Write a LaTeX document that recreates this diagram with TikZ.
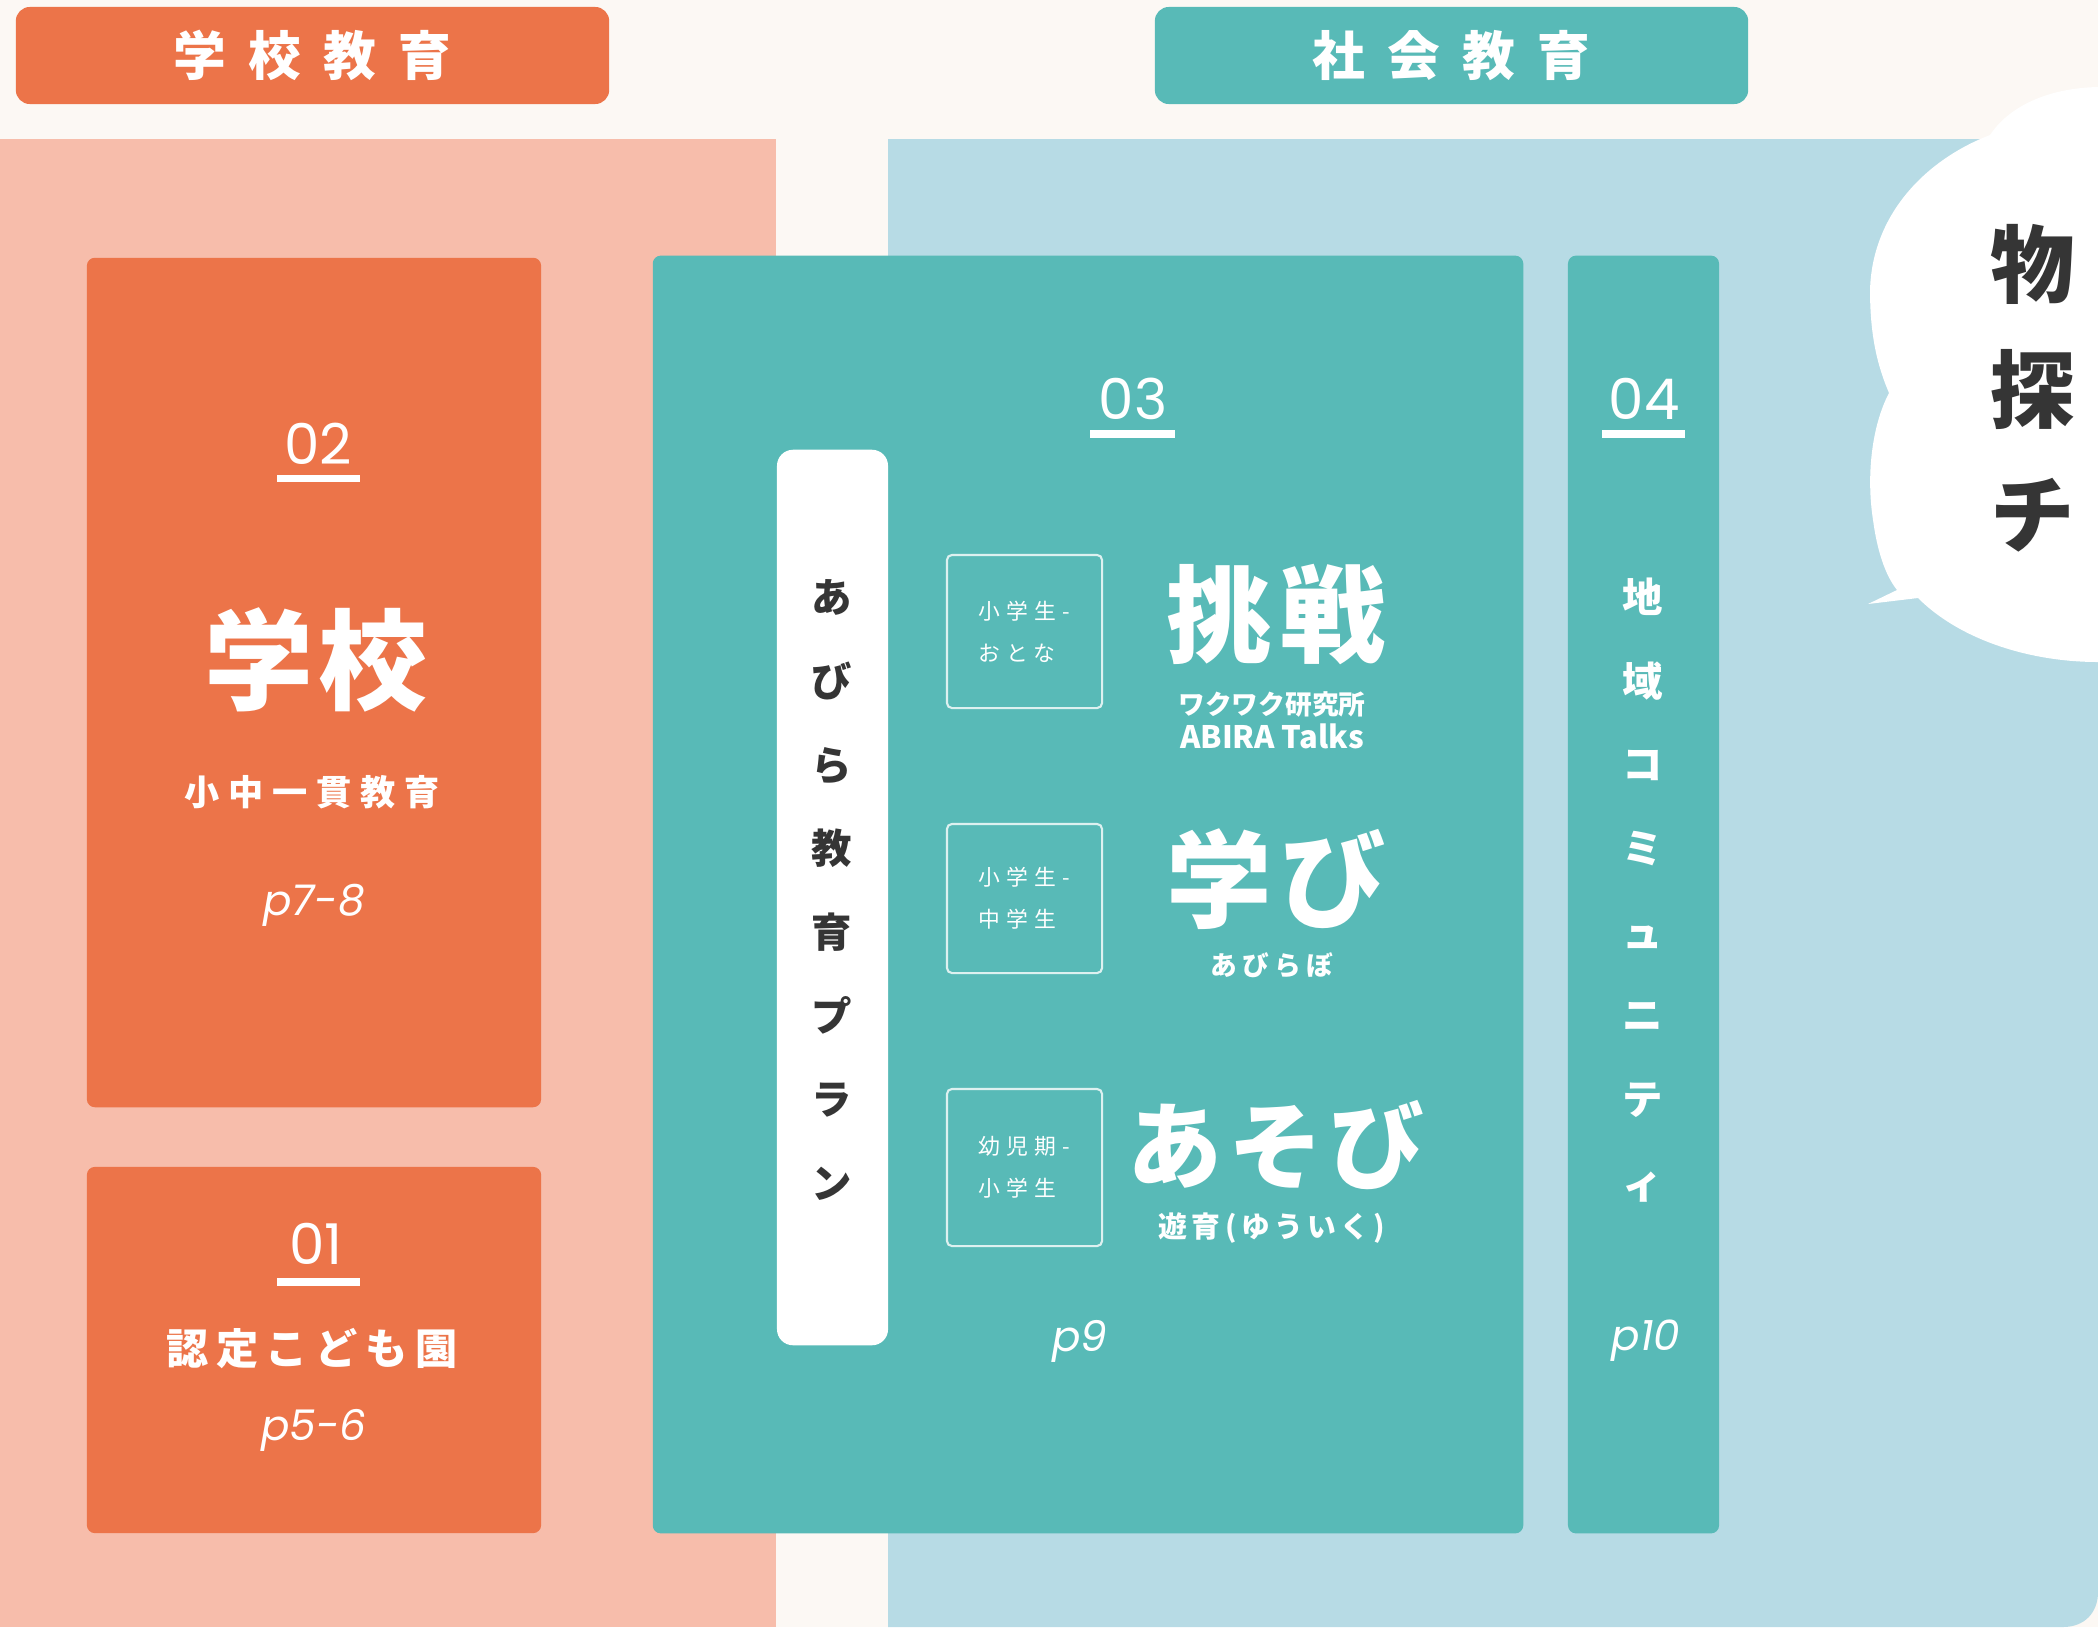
\documentclass[tikz,border=0pt]{standalone}
\usepackage{fontspec}
\newfontfamily\jp{Noto Sans CJK JP}
\newfontfamily\lat{Poppins}
\definecolor{bgc}{HTML}{FCF8F4}
\definecolor{org}{HTML}{EC7449}
\definecolor{pnk}{HTML}{F7BDAB}
\definecolor{tl}{HTML}{58BAB7}
\definecolor{lb}{HTML}{B7DBE5}
\definecolor{dk}{HTML}{353535}
\tikzset{
  every node/.style={inner sep=0pt, outer sep=0pt},
  fillbox/.style={fill=#1, rounded corners=0.08cm},
  toplabel/.style={fill=#1, rounded corners=0.14cm, minimum width=5.93cm, minimum height=0.97cm, text=white,
     font=\jp\bfseries\addfontfeature{LetterSpace=42}\fontsize{15}{18}\selectfont},
  agebox/.style={draw=white, draw opacity=0.8, line width=0.6pt, rounded corners=0.05cm, minimum width=1.55cm},
  agetxt/.style={text=white, align=left, font=\jp\addfontfeature{LetterSpace=28}\fontsize{6.2}{12}\selectfont},
  numtxt/.style={text=white, font=\lat\fontsize{16}{18}\selectfont},
  pagetxt/.style={text=white, font=\lat\itshape\fontsize{12}{14}\selectfont},
  bigtxt/.style={text=white, font=\jp\bfseries\fontsize{30}{34}\selectfont},
  subtxt/.style={text=white, align=center, font=\jp\bfseries\fontsize{7.6}{9.6}\selectfont},
  vtxt/.style={align=center, font=\jp\bfseries\fontsize{11.5}{23.8}\selectfont},
}
\begin{document}
\begin{tikzpicture}[x=0.01cm,y=-0.01cm]
\fill[bgc] (0,0) rectangle (2098,1627);
\useasboundingbox (0,0) rectangle (2098,1627);
% panels
\fill[pnk] (0,139) rectangle (776,1627);
\fill[lb] (888,139) -- (2098,139) -- (2098,1592) .. controls (2098,1612) and (2085,1627) .. (2063,1627) -- (888,1627) -- cycle;
% speech bubble
\fill[white] (2098,87) .. controls (2050,88) and (2010,105) .. (1990,135)
  .. controls (1925,160) and (1872,215) .. (1870,290)
  .. controls (1870,335) and (1877,365) .. (1889,393)
  .. controls (1872,425) and (1866,475) .. (1873,520)
  .. controls (1877,550) and (1885,575) .. (1897,590)
  -- (1868,604) -- (1918,598)
  .. controls (1960,640) and (2030,662) .. (2098,662) -- cycle;
\node[text=dk, align=center, font=\jp\bfseries\fontsize{24}{35.5}\selectfont] (bub) at (2033,388) {物\\探\\チ};
% top labels
\node[toplabel=org] (lab1) at (312.5,55.5) {学校教育};
\node[toplabel=tl] (lab2) at (1451.5,55.5) {社会教育};
% box 02
\node[fillbox=org, minimum width=4.54cm, minimum height=8.49cm] (b02) at (314,682.5) {};
\node[numtxt] (n02) at (318,444) {02};
\fill[white] (277,475) rectangle (360,482);
\node[bigtxt, font=\jp\bfseries\fontsize{31}{34}\selectfont\addfontfeature{LetterSpace=5}] (gakko) at (316,660) {学校};
\node[text=white, font=\jp\bfseries\addfontfeature{LetterSpace=25}\fontsize{10}{12}\selectfont] (shochu) at (312,792) {小中一貫教育};
\node[pagetxt] (p78) at (314,905) {p7-8};
% box 01
\node[fillbox=org, minimum width=4.54cm, minimum height=3.66cm] (b01) at (314,1350) {};
\node[numtxt] (n01) at (316,1244) {01};
\fill[white] (277,1278) rectangle (360,1286);
\node[text=white, font=\jp\bfseries\addfontfeature{LetterSpace=18}\fontsize{12}{14}\selectfont] (nintei) at (312,1349) {認定こども園};
\node[pagetxt] (p56) at (314,1430) {p5-6};
% box 03
\node[fillbox=tl, minimum width=8.70cm, minimum height=12.77cm] (b03) at (1088,894.5) {};
\node[numtxt] (n03) at (1133,399) {03};
\fill[white] (1090,430) rectangle (1175,438);
\node[fill=white, rounded corners=0.16cm, minimum width=1.11cm, minimum height=8.95cm] (pill) at (832.5,897.5) {};
\node[vtxt, text=dk] (plan) at (832,890) {あ\\び\\ら\\教\\育\\プ\\ラ\\ン};
% age boxes
\node[agebox, minimum height=1.53cm] (age1) at (1024.5,631.5) {};
\node[agetxt] (age1t) at (1024,632) {小学生-\\おとな};
\node[agebox, minimum height=1.49cm] (age2) at (1024.5,898.5) {};
\node[agetxt] (age2t) at (1024,898) {小学生-\\中学生};
\node[agebox, minimum height=1.57cm] (age3) at (1024.5,1167.5) {};
\node[agetxt] (age3t) at (1024,1167) {幼児期-\\小学生};
% big words
\node[bigtxt, font=\jp\bfseries\addfontfeature{LetterSpace=8}\fontsize{30}{34}\selectfont] (chosen) at (1276,615) {挑戦};
\node[subtxt] (waku) at (1272,720) {ワクワク研究所\\{\jp\fontsize{8.8}{10.5}\selectfont ABIRA Talks}};
\node[bigtxt, font=\jp\bfseries\addfontfeature{LetterSpace=8}\fontsize{30}{34}\selectfont] (manabi) at (1276,879) {学び};
\node[subtxt, font=\jp\bfseries\addfontfeature{LetterSpace=20}\fontsize{7.6}{9.6}\selectfont] (abirabo) at (1272,965) {あびらぼ};
\node[bigtxt, font=\jp\bfseries\addfontfeature{LetterSpace=6}\fontsize{27}{30}\selectfont] (asobi) at (1276,1145) {あそび};
\node[subtxt, font=\jp\bfseries\addfontfeature{LetterSpace=15}\fontsize{8.2}{10}\selectfont] (yuiku) at (1272,1228) {遊育(ゆういく)};
\node[pagetxt] (p9) at (1080,1341) {p9};
% box 04
\node[fillbox=tl, minimum width=1.51cm, minimum height=12.77cm] (b04) at (1643.5,894.5) {};
\node[numtxt] (n04) at (1644,399) {04};
\fill[white] (1602,430) rectangle (1685,438);
\node[vtxt, text=white] (chiiki) at (1643,890) {地\\域\\コ\\ミ\\ュ\\ニ\\テ\\ィ};
\node[pagetxt] (p10) at (1646,1341) {p10};
\end{tikzpicture}
\end{document}
